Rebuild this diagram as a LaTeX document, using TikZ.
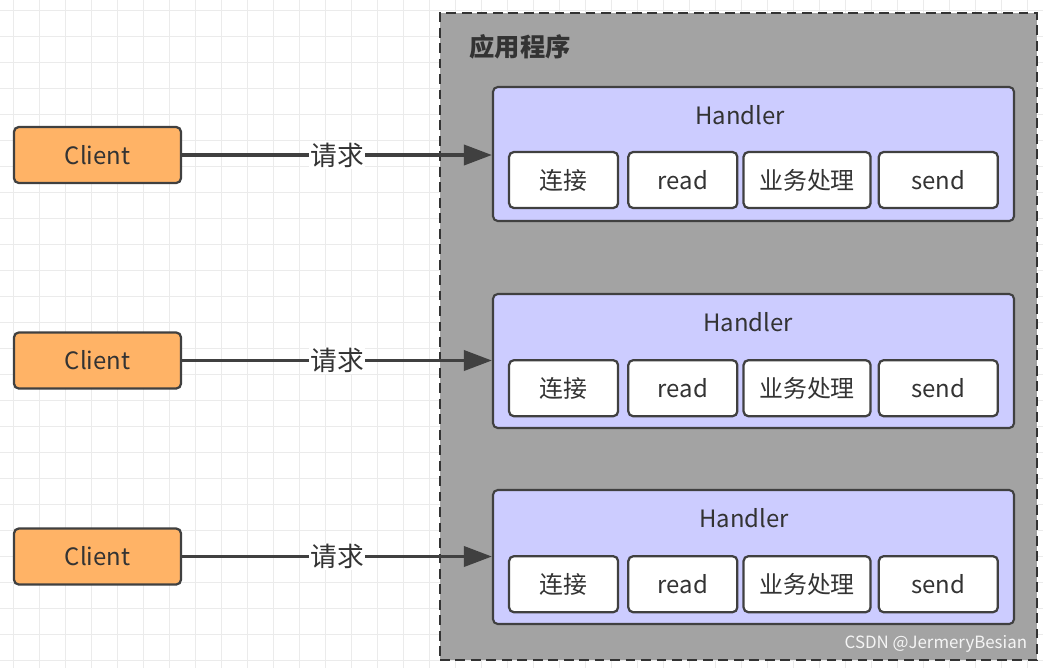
\documentclass[tikz,border=0pt]{standalone}
\usepackage{fontspec}
\setmainfont{Noto Sans CJK SC}
\usetikzlibrary{positioning,arrows.meta}

\definecolor{clientfill}{HTML}{FFB366}
\definecolor{handlerfill}{HTML}{CCCCFF}
\definecolor{appfill}{HTML}{A3A3A3}
\definecolor{edgegray}{HTML}{404040}
\definecolor{textgray}{HTML}{333333}
\definecolor{gridgray}{HTML}{EBEBEB}

\tikzset{
  boxtext/.style={text=textgray, font=\fontsize{17}{20}\selectfont},
  client/.style={rectangle, rounded corners=0.12cm, draw=edgegray, line width=1.6pt,
    fill=clientfill, minimum width=4.175cm, minimum height=1.4cm, boxtext},
  handler/.style={rectangle, rounded corners=0.12cm, draw=edgegray, line width=1.5pt,
    fill=handlerfill, minimum width=13.025cm, minimum height=3.35cm},
  stepbox/.style={rectangle, rounded corners=0.12cm, draw=edgegray, line width=1.6pt,
    fill=white, minimum height=1.4cm, boxtext},
  request/.style={-{Triangle[length=0.7cm,width=0.5cm]}, line width=2.6pt, draw=edgegray},
  reqlabel/.style={fill=white, inner sep=1pt, text=textgray, font=\fontsize{19}{22}\selectfont},
}

\begin{document}
\begin{tikzpicture}

\useasboundingbox (0,0) rectangle (26.075,-16.675);
\fill[white] (0,0) rectangle (26.075,-16.675);

%Grid
\begin{scope}
\clip (0,0) rectangle (26.075,-16.675);
\draw[gridgray, line width=0.6pt, shift={(0.325,-0.25)}] (-1,1) grid[step=0.65] (27,-17);
\end{scope}

%Application
\node[rectangle, draw=textgray, line width=2pt, dash pattern=on 7pt off 4pt,
fill=appfill, minimum width=14.925cm, minimum height=16.175cm] (app) at (18.4625,-8.4125) {};
\node[anchor=west, text=textgray, font=\fontsize{18}{22}\selectfont\bfseries]
(apptitle) at ([xshift=0.65cm, yshift=-0.875cm]app.north west) {应用程序};

%Handler 1
\node[handler] (h1) at (18.8375,-3.85) {};
\node[boxtext] (hl1) at ([xshift=-0.33cm, yshift=-0.725cm]h1.north) {Handler};
\node[stepbox, minimum width=2.725cm, anchor=west] (conn1) at ([xshift=0.4cm, yshift=-0.65cm]h1.west) {连接};
\node[stepbox, minimum width=2.725cm, right=0.2cm of conn1] (read1) {read};
\node[stepbox, minimum width=3.175cm, right=0.1cm of read1] (biz1) {业务处理};
\node[stepbox, minimum width=2.975cm, right=0.15cm of biz1] (send1) {send};

%Handler 2
\node[handler] (h2) at (18.8375,-9.025) {};
\node[boxtext] (hl2) at ([xshift=-0.13cm, yshift=-0.725cm]h2.north) {Handler};
\node[stepbox, minimum width=2.725cm, anchor=west] (conn2) at ([xshift=0.4cm, yshift=-0.68cm]h2.west) {连接};
\node[stepbox, minimum width=2.725cm, right=0.2cm of conn2] (read2) {read};
\node[stepbox, minimum width=3.175cm, right=0.1cm of read2] (biz2) {业务处理};
\node[stepbox, minimum width=2.975cm, right=0.15cm of biz2] (send2) {send};

%Handler 3
\node[handler] (h3) at (18.8375,-13.925) {};
\node[boxtext] (hl3) at ([xshift=-0.23cm, yshift=-0.725cm]h3.north) {Handler};
\node[stepbox, minimum width=2.725cm, anchor=west] (conn3) at ([xshift=0.4cm, yshift=-0.68cm]h3.west) {连接};
\node[stepbox, minimum width=2.725cm, right=0.2cm of conn3] (read3) {read};
\node[stepbox, minimum width=3.175cm, right=0.1cm of read3] (biz3) {业务处理};
\node[stepbox, minimum width=2.975cm, right=0.15cm of biz3] (send3) {send};

%Clients
\node[client] (cl1) at (2.4375,-3.875) {Client};
\node[client] (cl2) at (2.4375,-9.0125) {Client};
\node[client] (cl3) at (2.4375,-13.9125) {Client};

%Requests
\draw[request] (cl1) -- node[reqlabel] (req1) {请求} (cl1 -| h1.west);
\draw[request] (cl2) -- node[reqlabel] (req2) {请求} (cl2 -| h2.west);
\draw[request] (cl3) -- node[reqlabel] (req3) {请求} (cl3 -| h3.west);

%Watermark
\node[anchor=east, text=white!92!gray, font=\fontsize{12}{14}\selectfont]
(mark) at (25.8,-16.1) {CSDN @JermeryBesian};

\end{tikzpicture}
\end{document}
